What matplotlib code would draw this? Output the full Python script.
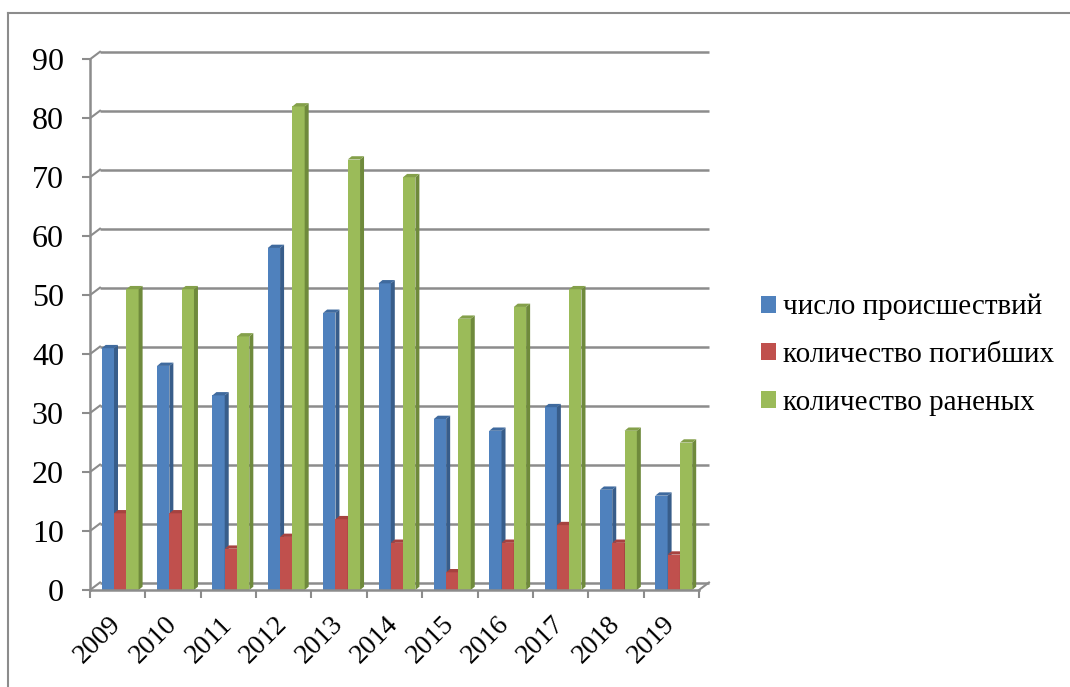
import matplotlib
matplotlib.use("Agg")
import matplotlib.pyplot as plt
from matplotlib.patches import Polygon, Patch
from matplotlib.lines import Line2D

years = ["2009", "2010", "2011", "2012", "2013", "2014", "2015", "2016", "2017", "2018", "2019"]
incidents = [41, 38, 33, 58, 47, 52, 29, 27, 31, 17, 16]
deaths = [13, 13, 7, 9, 12, 8, 3, 8, 11, 8, 6]
injured = [51, 51, 43, 82, 73, 70, 46, 48, 51, 27, 25]
series_names = ["число происшествий", "количество погибших", "количество раненых"]
y_ticks = list(range(0, 100, 10))

front_colors = ["#4F81BD", "#C0504D", "#9BBB59"]
side_colors = ["#385D8A", "#8C3836", "#6F8A3C"]
top_colors = ["#3F6A9E", "#A6423F", "#84A04A"]

FONT = 'Liberation Serif'
plt.rcParams['font.family'] = FONT

W, H = 1070, 687
fig = plt.figure(figsize=(W / 100, H / 100), dpi=100)
px_per_x = 55.36
px_per_y = 5.897
ax_left, ax_bottom_px = 90, 590
ax_w_px, ax_h_px = 620, 540
ax = fig.add_axes([ax_left / W, (H - ax_bottom_px) / H, ax_w_px / W, ax_h_px / H])
ax.set_xlim(0, ax_w_px / px_per_x)
ax.set_ylim(0, ax_h_px / px_per_y)
ax.patch.set_alpha(0)

n = len(years)
grid_col = "#8C8C8C"
dx = 10 / px_per_x
dy = 7.5 / px_per_y

# back wall gridlines + diagonals
for v in y_ticks:
    ax.plot([dx, n + dx], [v + dy, v + dy], color=grid_col, lw=1.8, zorder=1, clip_on=False,
            solid_capstyle='butt')
    ax.plot([0, dx], [v, v + dy], color=grid_col, lw=1.5, zorder=1, clip_on=False)
ax.plot([n, n + dx], [0, dy], color=grid_col, lw=1.5, zorder=1, clip_on=False)

# bars
bw = 12.3 / px_per_x
off0 = 11.7 / px_per_x
bdx = 4 / px_per_x
bdy = 3.3 / px_per_y
all_series = [incidents, deaths, injured]
for s, vals in enumerate(all_series):
    xs = [i + off0 + s * bw for i in range(n)]
    ax.bar(xs, vals, width=bw, align='edge', color=front_colors[s], linewidth=0,
           zorder=3 + s, clip_on=False)
    for x, v in zip(xs, vals):
        side = Polygon([(x + bw, 0), (x + bw + bdx, bdy), (x + bw + bdx, v + bdy), (x + bw, v)],
                       closed=True, facecolor=side_colors[s], edgecolor='none',
                       zorder=3 + s, clip_on=False)
        top = Polygon([(x, v), (x + bdx, v + bdy), (x + bw + bdx, v + bdy), (x + bw, v)],
                      closed=True, facecolor=top_colors[s], edgecolor='none',
                      zorder=3 + s, clip_on=False)
        ax.add_patch(side)
        ax.add_patch(top)

# axes spines
for sp in ['top', 'right']:
    ax.spines[sp].set_visible(False)
ax.spines['left'].set_bounds(0, 90)
ax.spines['bottom'].set_bounds(0, n)
for sp in ['left', 'bottom']:
    ax.spines[sp].set_color(grid_col)
    ax.spines[sp].set_linewidth(1.8)
    ax.spines[sp].set_zorder(6)

ax.set_yticks(y_ticks)
ax.set_yticklabels([str(v) for v in y_ticks], family=FONT)
ax.tick_params(axis='y', length=5.8, width=1.5, color=grid_col, labelsize=23, pad=13,
               labelcolor='black')

ax.set_xticks(range(n + 1))
ax.set_xticklabels([])
ax.tick_params(axis='x', which='major', length=5.8, width=1.5, color=grid_col)
ax.set_xticks([i + 0.5 for i in range(n)], minor=True)
ax.set_xticklabels(years, minor=True, rotation=45, ha='right', va='center',
                   rotation_mode='anchor', fontsize=20, family=FONT)
ax.tick_params(axis='x', which='minor', length=0, pad=22)

# legend
handles = [Patch(facecolor=c, edgecolor='none') for c in front_colors]
fig.legend(handles, series_names, loc='center left', bbox_to_anchor=(761 / W, 1 - 355 / H),
           frameon=False, prop={'family': FONT, 'size': 21}, handlelength=0.52, handleheight=0.52,
           handletextpad=0.25, labelspacing=0.75, borderpad=0, borderaxespad=0)

# outer frame (top and left)
fig.add_artist(Line2D([8 / W, 1.0], [1 - 13 / H, 1 - 13 / H], color=grid_col, lw=1.5,
                      transform=fig.transFigure))
fig.add_artist(Line2D([8 / W, 8 / W], [0, 1 - 13 / H], color=grid_col, lw=1.5,
                      transform=fig.transFigure))

fig.savefig("out.png", dpi=100)
